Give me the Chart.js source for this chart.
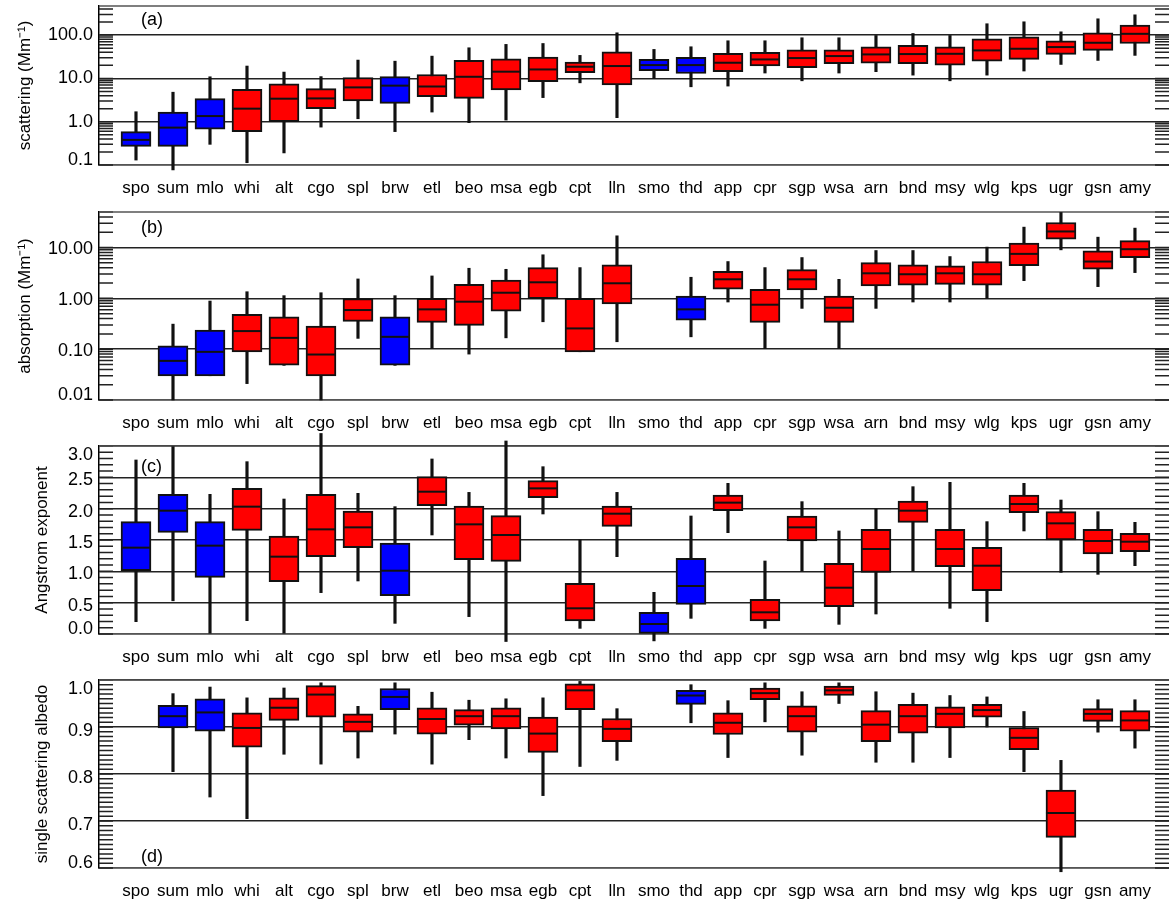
<!DOCTYPE html>
<html>
<head>
<meta charset="utf-8">
<title>Aerosol optical properties by site</title>
<script src="https://cdn.jsdelivr.net/npm/chart.js@4.4.1/dist/chart.umd.min.js"></script>
<style>
  html, body { margin: 0; padding: 0; background: #fff; overflow: hidden; }
  .panel { position: absolute; left: 0; width: 1169px; }
</style>
</head>
<body>
<div class="panel" style="top:0px;height:205px"><canvas id="chartA"></canvas></div>
<div class="panel" style="top:192px;height:248px"><canvas id="chartB"></canvas></div>
<div class="panel" style="top:426px;height:248px"><canvas id="chartC"></canvas></div>
<div class="panel" style="top:660px;height:245px"><canvas id="chartD"></canvas></div>
<script>
// ===========================================
// SITE DATA (box = 25/75 %, whiskers = 5/95 %, line = median)
// ===========================================
const sites = ['spo', 'sum', 'mlo', 'whi', 'alt', 'cgo', 'spl', 'brw', 'etl', 'beo', 'msa', 'egb', 'cpt', 'lln',
  'smo', 'thd', 'app', 'cpr', 'sgp', 'wsa', 'arn', 'bnd', 'msy', 'wlg', 'kps', 'ugr', 'gsn', 'amy'];
// remote / clean sites drawn in blue
const cleanSites = ['spo', 'sum', 'mlo', 'brw', 'smo', 'thd'];

// (a) scattering, Mm-1
const scatLow  = [0.13, 0.077, 0.30, 0.113, 0.19, 0.75, 1.17, 0.59, 1.67, 0.95, 1.09, 3.6, 7.9, 1.24, 10, 6.4, 6.65, 13.3, 8.8, 13.3, 14.3, 11.9, 8.8, 11.9, 14.8, 21, 26, 34];
const scatQ1   = [0.27, 0.27, 0.67, 0.59, 1.0, 2.0, 3.0, 2.65, 3.8, 3.45, 5.4, 8.4, 13.5, 7.1, 15, 13, 14.3, 19.3, 17.6, 21.8, 22.6, 21.8, 20.3, 25, 27.4, 35.8, 44.3, 64];
const scatMed  = [0.38, 0.73, 1.35, 2.0, 3.4, 3.45, 6.2, 6.8, 6.5, 10.9, 14.3, 16.1, 18.6, 19.3, 20.3, 20.3, 23, 27.4, 29.5, 32.8, 35.8, 36.5, 37, 44.3, 48.4, 52.9, 66.5, 107];
const scatQ3   = [0.59, 1.67, 3.4, 5.6, 7.5, 5.8, 10.5, 11, 12.3, 26, 28.4, 31, 23.8, 41, 27.4, 30.5, 37.8, 39.8, 45.9, 45.9, 53.8, 57.8, 53.8, 82, 91.5, 74, 113, 170];
const scatHigh = [1.7, 4.8, 10.9, 19.3, 14, 11, 26.5, 25, 32.7, 51, 61, 64, 34, 113, 46.7, 53.8, 74, 74, 86.8, 86.8, 98, 109, 98, 183, 203, 119, 238, 294];
const scatTicks = [0.1, 1, 10, 100];
const scatTickLabels = ['0.1', '1.0', '10.0', '100.0'];

// (b) absorption, Mm-1
const absLow  = [null, 0.01, 0.03, 0.021, 0.048, 0.01, 0.163, 0.048, 0.103, 0.08, 0.167, 0.346, 0.089, 0.14, null, 0.175, 0.847, 0.103, 0.635, 0.103, 0.635, 0.847, 0.847, 1.0, 2.23, 9.0, 1.7, 3.21];
const absQ1   = [null, 0.0298, 0.0298, 0.0886, 0.0483, 0.0298, 0.352, 0.0483, 0.336, 0.293, 0.562, 0.985, 0.0886, 0.773, null, 0.373, 1.51, 0.336, 1.46, 0.336, 1.75, 1.81, 1.89, 1.81, 4.41, 14.6, 3.73, 6.35];
const absMed  = [null, 0.0589, 0.0886, 0.227, 0.167, 0.0785, 0.589, 0.175, 0.607, 0.86, 1.29, 2.07, 0.256, 1.98, null, 0.607, 2.37, 0.75, 2.37, 0.654, 3.11, 2.98, 3.11, 2.98, 7.5, 20.7, 5.3, 9.27];
const absQ3   = [null, 0.116, 0.237, 0.483, 0.435, 0.284, 0.985, 0.435, 1.0, 1.89, 2.3, 4.03, 1.0, 4.55, null, 1.11, 3.41, 1.51, 3.68, 1.11, 5.06, 4.55, 4.35, 5.3, 12.2, 31.1, 8.6, 13.7];
const absHigh = [null, 0.311, 0.885, 1.35, 1.13, 1.29, 2.41, 1.13, 2.76, 3.91, 3.73, 7.2, 4.03, 17, null, 2.6, 5.3, 4.03, 6.35, 2.37, 8.73, 8.73, 6.64, 10.2, 25.2, 49, 16, 24.1];
const absTicks = [0.01, 0.1, 1, 10];
const absTickLabels = ['0.01', '0.10', '1.00', '10.00'];

// (c) Angstrom exponent
const angLow  = [0.197, 0.53, 0.0, 0.213, 0.0, 0.66, 0.846, 0.17, 1.58, 0.277, -0.12, 1.915, 0.09, 1.234, -0.11, 0.25, 1.617, 0.09, 1.005, 0.154, 0.319, 1.005, 0.41, 0.197, 1.644, 0.984, 0.952, 1.09];
const angQ1   = [1.01, 1.622, 0.904, 1.654, 0.835, 1.234, 1.378, 0.612, 2.048, 1.186, 1.16, 2.176, 0.207, 1.718, 0.01, 0.473, 1.968, 0.207, 1.484, 0.436, 0.984, 1.782, 1.074, 0.691, 1.936, 1.5, 1.277, 1.314];
const angMed  = [1.378, 1.968, 1.41, 2.032, 1.234, 1.67, 1.702, 1.01, 2.271, 1.75, 1.58, 2.324, 0.41, 1.92, 0.16, 0.766, 2.096, 0.346, 1.702, 0.739, 1.356, 1.968, 1.356, 1.09, 2.074, 1.766, 1.484, 1.473];
const angQ3   = [1.793, 2.229, 1.793, 2.324, 1.564, 2.229, 1.963, 1.452, 2.511, 2.043, 1.888, 2.447, 0.809, 2.043, 0.346, 1.207, 2.218, 0.553, 1.883, 1.128, 1.67, 2.122, 1.67, 1.383, 2.218, 1.952, 1.67, 1.606];
const angHigh = [2.777, 2.99, 2.229, 2.75, 2.154, 3.2, 2.245, 2.032, 2.793, 2.26, 3.08, 2.67, 1.5, 2.26, 0.665, 1.883, 2.404, 1.165, 2.112, 1.644, 1.995, 2.351, 2.42, 1.793, 2.404, 2.138, 1.952, 1.782];
const angTicks = [0, 0.5, 1, 1.5, 2, 2.5, 3];
const angTickLabels = ['0.0', '0.5', '1.0', '1.5', '2.0', '2.5', '3.0'];

// (d) single scattering albedo
const ssaLow  = [null, 0.805, 0.751, 0.705, 0.842, 0.821, 0.834, 0.885, 0.821, 0.873, 0.834, 0.754, 0.816, 0.829, null, 0.909, 0.835, 0.911, 0.84, 0.95, 0.825, 0.825, 0.835, 0.9, 0.805, 0.592, 0.889, 0.855];
const ssaQ1   = [null, 0.898, 0.891, 0.857, 0.914, 0.921, 0.889, 0.937, 0.885, 0.904, 0.896, 0.846, 0.937, 0.869, null, 0.948, 0.884, 0.958, 0.889, 0.967, 0.869, 0.887, 0.898, 0.921, 0.852, 0.665, 0.912, 0.891];
const ssaMed  = [null, 0.923, 0.931, 0.898, 0.941, 0.969, 0.911, 0.964, 0.917, 0.923, 0.923, 0.886, 0.978, 0.896, null, 0.967, 0.909, 0.972, 0.923, 0.978, 0.905, 0.923, 0.928, 0.936, 0.877, 0.717, 0.928, 0.914];
const ssaQ3   = [null, 0.946, 0.96, 0.93, 0.962, 0.988, 0.928, 0.982, 0.941, 0.937, 0.941, 0.921, 0.992, 0.918, null, 0.978, 0.93, 0.983, 0.945, 0.987, 0.935, 0.948, 0.943, 0.948, 0.899, 0.766, 0.939, 0.935];
const ssaHigh = [null, 0.971, 0.985, 0.962, 0.983, 0.994, 0.944, 0.994, 0.974, 0.957, 0.96, 0.962, 0.997, 0.939, null, 0.99, 0.956, 0.994, 0.975, 0.994, 0.975, 0.972, 0.967, 0.964, 0.933, 0.829, 0.958, 0.958];
const ssaTicks = [0.6, 0.7, 0.8, 0.9, 1.0];
const ssaTickLabels = ['0.6', '0.7', '0.8', '0.9', '1.0'];

// ===========================================
// STYLE
// ===========================================
const FONT = "'Liberation Sans', Arial, Helvetica, sans-serif";
const BLUE = '#0000ff';
const RED = '#ff0000';
const INK = '#111';

Chart.defaults.font.family = FONT;
Chart.defaults.color = '#000';

// minor ticks for the inside tick marks on both frame edges
function logMinor(min, max) {
  const out = [];
  for (let e = Math.floor(Math.log10(min)); e <= Math.ceil(Math.log10(max)); e++) {
    for (let m = 1; m < 10; m++) {
      const v = m * Math.pow(10, e);
      if (v >= min && v <= max) out.push(v);
    }
  }
  return out;
}

function linMinor(min, max, step) {
  const out = [];
  const n = Math.round((max - min) / step);
  for (let i = 0; i <= n; i++) out.push(+(min + i * step).toFixed(4));
  return out;
}

// frame, inside ticks and panel letter
const panelDecor = {
  id: 'panelDecor',
  beforeDraw(chart, args, opts) {
    // keep the end labels inside the frame, like the original plot
    const a = chart.chartArea;
    chart.scales.y.getLabelItems().forEach(item => {
      const t = item.options.translation;
      t[1] = Math.min(Math.max(t[1] + opts.labelShift, a.top + 9), a.bottom - 5);
    });
  },
  beforeDatasetsDraw(chart, args, opts) {
    const { ctx, chartArea: a } = chart;
    const y = chart.scales.y;
    ctx.save();
    ctx.strokeStyle = '#222';
    ctx.lineWidth = 1.5;
    ctx.beginPath();
    opts.minor.forEach(v => {
      const py = y.getPixelForValue(v);
      if (py < a.top - 0.5 || py > a.bottom + 0.5) return;
      ctx.moveTo(a.left, py);
      ctx.lineTo(a.left + 14, py);
      ctx.moveTo(a.right - 14, py);
      ctx.lineTo(a.right, py);
    });
    ctx.stroke();
    // top edge of the frame
    ctx.strokeStyle = '#555';
    ctx.beginPath();
    ctx.moveTo(a.left, a.top);
    ctx.lineTo(a.right, a.top);
    ctx.stroke();
    ctx.restore();
  },
  afterDraw(chart, args, opts) {
    const { ctx, chartArea: a } = chart;
    ctx.save();
    ctx.font = '18px ' + FONT;
    ctx.fillStyle = '#000';
    ctx.textAlign = 'left';
    ctx.textBaseline = 'middle';
    ctx.fillText(opts.label, a.left + 42, a.top + opts.labelY);
    ctx.restore();
  }
};

function renderPanel(p) {
  const idx = sites.map((s, i) => i).filter(i => p.med[i] != null);
  const colors = idx.map(i => cleanSites.includes(sites[i]) ? BLUE : RED);

  const findLabel = v => {
    const k = p.ticks.findIndex(t => Math.abs(t - v) < 1e-9 * Math.max(1, Math.abs(t)));
    return k >= 0 ? p.tickLabels[k] : '';
  };

  return new Chart(document.getElementById(p.canvas), {
    type: 'bar',
    data: {
      datasets: [
        {
          // whiskers
          label: 'range',
          data: idx.map(i => ({ x: i + 1, y: [p.lo[i], p.hi[i]] })),
          backgroundColor: INK,
          borderWidth: 0,
          barThickness: 2.5,
          grouped: false,
          clip: false,
          order: 3
        },
        {
          // boxes
          label: 'quartiles',
          data: idx.map(i => ({ x: i + 1, y: [p.q1[i], p.q3[i]] })),
          backgroundColor: colors,
          borderColor: INK,
          borderWidth: 2,
          borderSkipped: false,
          barThickness: 30,
          grouped: false,
          clip: false,
          order: 2
        },
        {
          // medians
          type: 'line',
          label: 'median',
          data: idx.map(i => ({ x: i + 1, y: p.med[i] })),
          showLine: false,
          pointStyle: 'line',
          pointRadius: 15,
          pointHoverRadius: 15,
          pointBorderWidth: 2,
          pointBorderColor: INK,
          clip: false,
          order: 1
        }
      ]
    },
    options: {
      responsive: true,
      maintainAspectRatio: false,
      animation: false,
      events: [],
      layout: { autoPadding: false, padding: { top: p.padTop, left: 0, right: 0, bottom: 0 } },
      plugins: {
        legend: { display: false },
        tooltip: { enabled: false },
        panelDecor: { minor: p.minor, label: p.label, labelY: p.labelY, labelShift: p.labelShift }
      },
      scales: {
        x: {
          type: 'linear',
          min: 0,
          max: 28.92,
          offset: false,
          grid: { display: false, drawTicks: false },
          border: { display: true, color: '#555', width: 1.5 },
          ticks: {
            autoSkip: false,
            maxRotation: 0,
            padding: 13,
            font: { size: 17 },
            color: '#000',
            callback: v => sites[v - 1] || ''
          },
          afterBuildTicks: scale => {
            scale.ticks = sites.map((s, i) => ({ value: i + 1 }));
          },
          afterFit: scale => {
            scale.height = p.axisHeight;
            scale.paddingLeft = 0;
            scale.paddingRight = 0;
          }
        },
        y: {
          type: p.type,
          min: p.min,
          max: p.max,
          grid: { color: '#222', lineWidth: 1.5, drawTicks: false },
          border: { display: true, color: '#000', width: 1.5 },
          ticks: {
            padding: 6,
            font: { size: 18 },
            color: '#000',
            callback: v => findLabel(v)
          },
          title: {
            display: true,
            text: p.title,
            font: { size: 17 },
            color: '#000',
            padding: { top: p.titlePad, bottom: 0 }
          },
          afterBuildTicks: scale => {
            scale.ticks = p.ticks.map(v => ({ value: v }));
          },
          afterFit: scale => {
            scale.width = 99;
            scale.paddingTop = 0;
            scale.paddingBottom = 0;
          }
        }
      }
    },
    plugins: [panelDecor]
  });
}

const panels = [
  {
    canvas: 'chartA', label: '(a)', title: 'scattering (Mm⁻¹)', type: 'logarithmic', min: 0.1, max: 470,
    ticks: scatTicks, tickLabels: scatTickLabels, minor: logMinor(0.1, 470),
    lo: scatLow, q1: scatQ1, med: scatMed, q3: scatQ3, hi: scatHigh,
    padTop: 6, axisHeight: 40, titlePad: 15, labelY: 14, labelShift: 0
  },
  {
    canvas: 'chartB', label: '(b)', title: 'absorption (Mm⁻¹)', type: 'logarithmic', min: 0.01, max: 50,
    ticks: absTicks, tickLabels: absTickLabels, minor: logMinor(0.01, 50),
    lo: absLow, q1: absQ1, med: absMed, q3: absQ3, hi: absHigh,
    padTop: 20, axisHeight: 40, titlePad: 15, labelY: 16, labelShift: 2
  },
  {
    canvas: 'chartC', label: '(c)', title: 'Angstrom exponent', type: 'linear', min: 0, max: 3,
    ticks: angTicks, tickLabels: angTickLabels, minor: linMinor(0, 3, 0.1),
    lo: angLow, q1: angQ1, med: angMed, q3: angQ3, hi: angHigh,
    padTop: 20, axisHeight: 40, titlePad: 32, labelY: 21, labelShift: 3
  },
  {
    canvas: 'chartD', label: '(d)', title: 'single scattering albedo', type: 'linear', min: 0.6, max: 1.0,
    ticks: ssaTicks, tickLabels: ssaTickLabels, minor: linMinor(0.6, 1.0, 0.01),
    lo: ssaLow, q1: ssaQ1, med: ssaMed, q3: ssaQ3, hi: ssaHigh,
    padTop: 20, axisHeight: 37, titlePad: 32, labelY: 177, labelShift: 4
  }
];

panels.forEach(renderPanel);
</script>
</body>
</html>
